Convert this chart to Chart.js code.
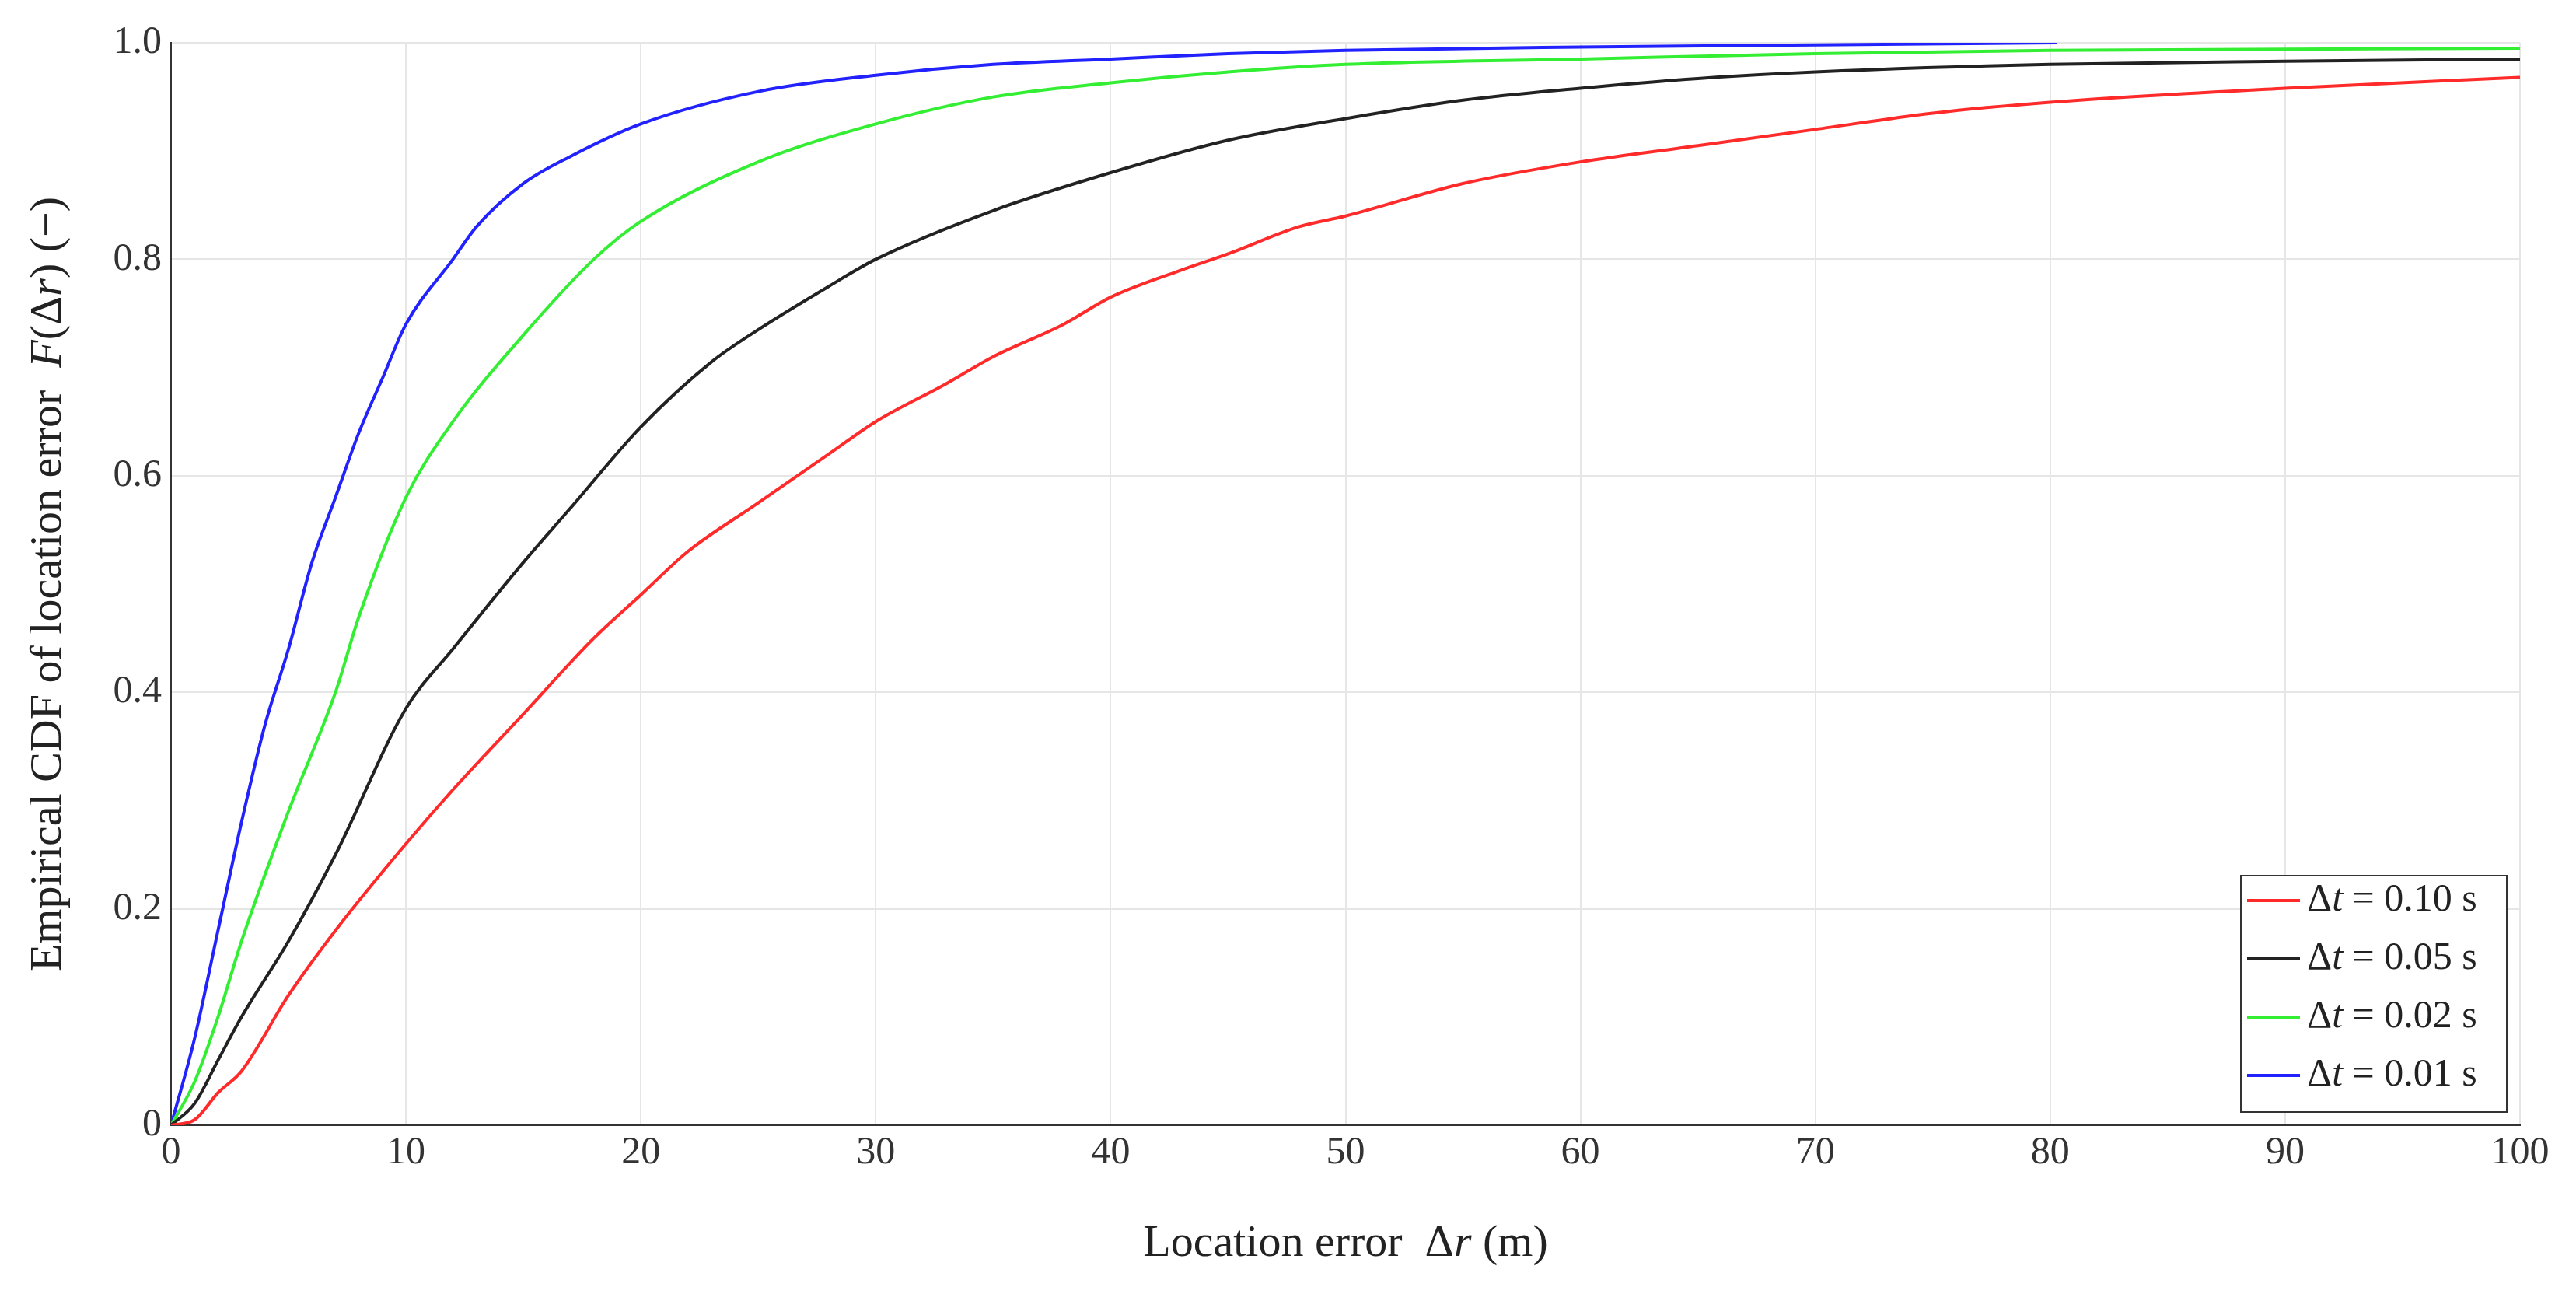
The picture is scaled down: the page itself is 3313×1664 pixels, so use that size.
<!DOCTYPE html>
<html>
<head>
<meta charset="utf-8">
<script src="https://cdn.jsdelivr.net/npm/chart.js@4.4.0/dist/chart.umd.min.js"></script>
<style>
  html, body { margin: 0; padding: 0; background: #fff; }
  #wrap { width: 3313px; height: 1664px; }
</style>
</head>
<body>
<div id="wrap"><canvas id="c"></canvas></div>
<script>
// Location error (m) sample points and CDF values per time step
const xRed   = [0, 1, 2, 3, 5, 7, 10, 12, 15, 18, 20, 22, 25, 28, 30, 33, 35, 38, 40, 43, 45, 48, 50, 55, 60, 65, 70, 75, 80, 90, 100];
const yRed   = [0, 0.005, 0.03, 0.05, 0.12, 0.18, 0.26, 0.31, 0.38, 0.45, 0.49, 0.53, 0.575, 0.62, 0.65, 0.685, 0.71, 0.74, 0.765, 0.79, 0.805, 0.83, 0.84, 0.87, 0.89, 0.905, 0.92, 0.935, 0.945, 0.958, 0.968];
const xBlack = [0, 1, 2, 3, 5, 7, 10, 12, 15, 17, 20, 23, 25, 28, 30, 35, 40, 45, 50, 55, 60, 65, 70, 80, 90, 100];
const yBlack = [0, 0.02, 0.06, 0.1, 0.17, 0.25, 0.385, 0.44, 0.52, 0.57, 0.645, 0.705, 0.735, 0.775, 0.8, 0.845, 0.88, 0.91, 0.93, 0.947, 0.958, 0.967, 0.973, 0.98, 0.983, 0.985];
const xGreen = [0, 1, 2, 3, 5, 7, 8, 10, 12, 15, 18, 20, 25, 30, 35, 40, 45, 50, 60, 70, 80, 100];
const yGreen = [0, 0.04, 0.1, 0.17, 0.29, 0.4, 0.47, 0.58, 0.65, 0.73, 0.8, 0.835, 0.89, 0.925, 0.95, 0.963, 0.973, 0.98, 0.985, 0.99, 0.993, 0.995];
const xBlue  = [0, 1, 2, 3, 4, 5, 6, 7, 8, 9, 10, 12, 13, 15, 17, 20, 25, 30, 35, 40, 45, 50, 60, 70, 80.3];
const yBlue  = [0, 0.08, 0.18, 0.28, 0.37, 0.44, 0.52, 0.58, 0.64, 0.69, 0.74, 0.8, 0.83, 0.87, 0.895, 0.925, 0.955, 0.97, 0.98, 0.985, 0.99, 0.993, 0.996, 0.998, 1.0];
const stepLabels = ['0.10', '0.05', '0.02', '0.01'];
const xTicks = [0, 10, 20, 30, 40, 50, 60, 70, 80, 90, 100];
const yTicks = [0, 0.2, 0.4, 0.6, 0.8, 1];

const FONT = '"Liberation Serif", "DejaVu Serif", serif';

function pts(xs, ys) { return xs.map((x, i) => ({ x: x, y: ys[i] })); }

function series(label, xs, ys, color) {
  return {
    label: label,
    data: pts(xs, ys),
    borderColor: color,
    backgroundColor: color,
    borderWidth: 4,
    pointRadius: 0,
    tension: 0.3,
    cubicInterpolationMode: 'monotone'
  };
}

// draws a string made of [text, italic] parts starting at x
function drawRich(ctx, parts, x, y, size) {
  for (const [t, it] of parts) {
    ctx.font = (it ? 'italic ' : '') + size + 'px ' + FONT;
    ctx.fillText(t, x, y);
    x += ctx.measureText(t).width;
  }
}
function richWidth(ctx, parts, size) {
  let w = 0;
  for (const [t, it] of parts) {
    ctx.font = (it ? 'italic ' : '') + size + 'px ' + FONT;
    w += ctx.measureText(t).width;
  }
  return w;
}

const decorPlugin = {
  id: 'decor',
  afterDraw(chart) {
    const ctx = chart.ctx;
    const area = chart.chartArea;
    ctx.save();
    ctx.fillStyle = '#222';
    ctx.textBaseline = 'middle';

    // x title
    const xt = [['Location error  \u0394', false], ['r', true], [' (m)', false]];
    const xw = richWidth(ctx, xt, 58);
    drawRich(ctx, xt, (area.left + area.right) / 2 - xw / 2, 1600, 58);

    // y title
    const yt = [['Empirical CDF of location error  ', false], ['F', true], ['(\u0394', false], ['r', true], [') (\u2212)', false]];
    ctx.translate(63, (area.top + area.bottom) / 2);
    ctx.rotate(-Math.PI / 2);
    const yw = richWidth(ctx, yt, 58);
    drawRich(ctx, yt, -yw / 2, 0, 58);
    ctx.setTransform(1, 0, 0, 1, 0, 0);

    // legend box, bottom right inside the plot
    const bx = 2882, by = 1126, bw = 342, bh = 304;
    ctx.fillStyle = '#fff';
    ctx.fillRect(bx, by, bw, bh);
    ctx.strokeStyle = '#333';
    ctx.lineWidth = 2;
    ctx.strokeRect(bx, by, bw, bh);
    chart.data.datasets.forEach((ds, i) => {
      const cy = by + 32 + i * 75;
      ctx.strokeStyle = ds.borderColor;
      ctx.lineWidth = 4;
      ctx.beginPath();
      ctx.moveTo(bx + 8, cy);
      ctx.lineTo(bx + 76, cy);
      ctx.stroke();
      ctx.fillStyle = '#222';
      drawRich(ctx, [['\u0394', false], ['t', true], [' = ' + stepLabels[i] + ' s', false]], bx + 85, cy, 50);
    });
    ctx.restore();
  }
};

new Chart(document.getElementById('c'), {
  type: 'line',
  data: {
    datasets: [
      series('\u0394t = 0.10 s', xRed, yRed, '#ff2a2a'),
      series('\u0394t = 0.05 s', xBlack, yBlack, '#222222'),
      series('\u0394t = 0.02 s', xGreen, yGreen, '#33ee33'),
      series('\u0394t = 0.01 s', xBlue, yBlue, '#2222ff')
    ]
  },
  options: {
    responsive: true,
    maintainAspectRatio: false,
    animation: false,
    layout: { padding: { left: 0, right: 72, top: 55, bottom: 0 } },
    plugins: { legend: { display: false }, tooltip: { enabled: false } },
    scales: {
      x: {
        type: 'linear', min: 0, max: 100,
        afterFit(s) { s.height = 217; },
        afterBuildTicks(s) { s.ticks = xTicks.map(v => ({ value: v })); },
        ticks: { color: '#333', font: { family: FONT, size: 50 }, padding: 6, maxRotation: 0 },
        grid: { color: '#e6e6e6', lineWidth: 2, drawTicks: false },
        border: { color: '#333', width: 2 }
      },
      y: {
        type: 'linear', min: 0, max: 1,
        afterFit(s) { s.width = 220; },
        afterBuildTicks(s) { s.ticks = yTicks.map(v => ({ value: v })); },
        ticks: { color: '#333', font: { family: FONT, size: 50 }, padding: 12 },
        grid: { color: '#e6e6e6', lineWidth: 2, drawTicks: false },
        border: { color: '#333', width: 2 }
      }
    }
  },
  plugins: [decorPlugin]
});
</script>
</body>
</html>
